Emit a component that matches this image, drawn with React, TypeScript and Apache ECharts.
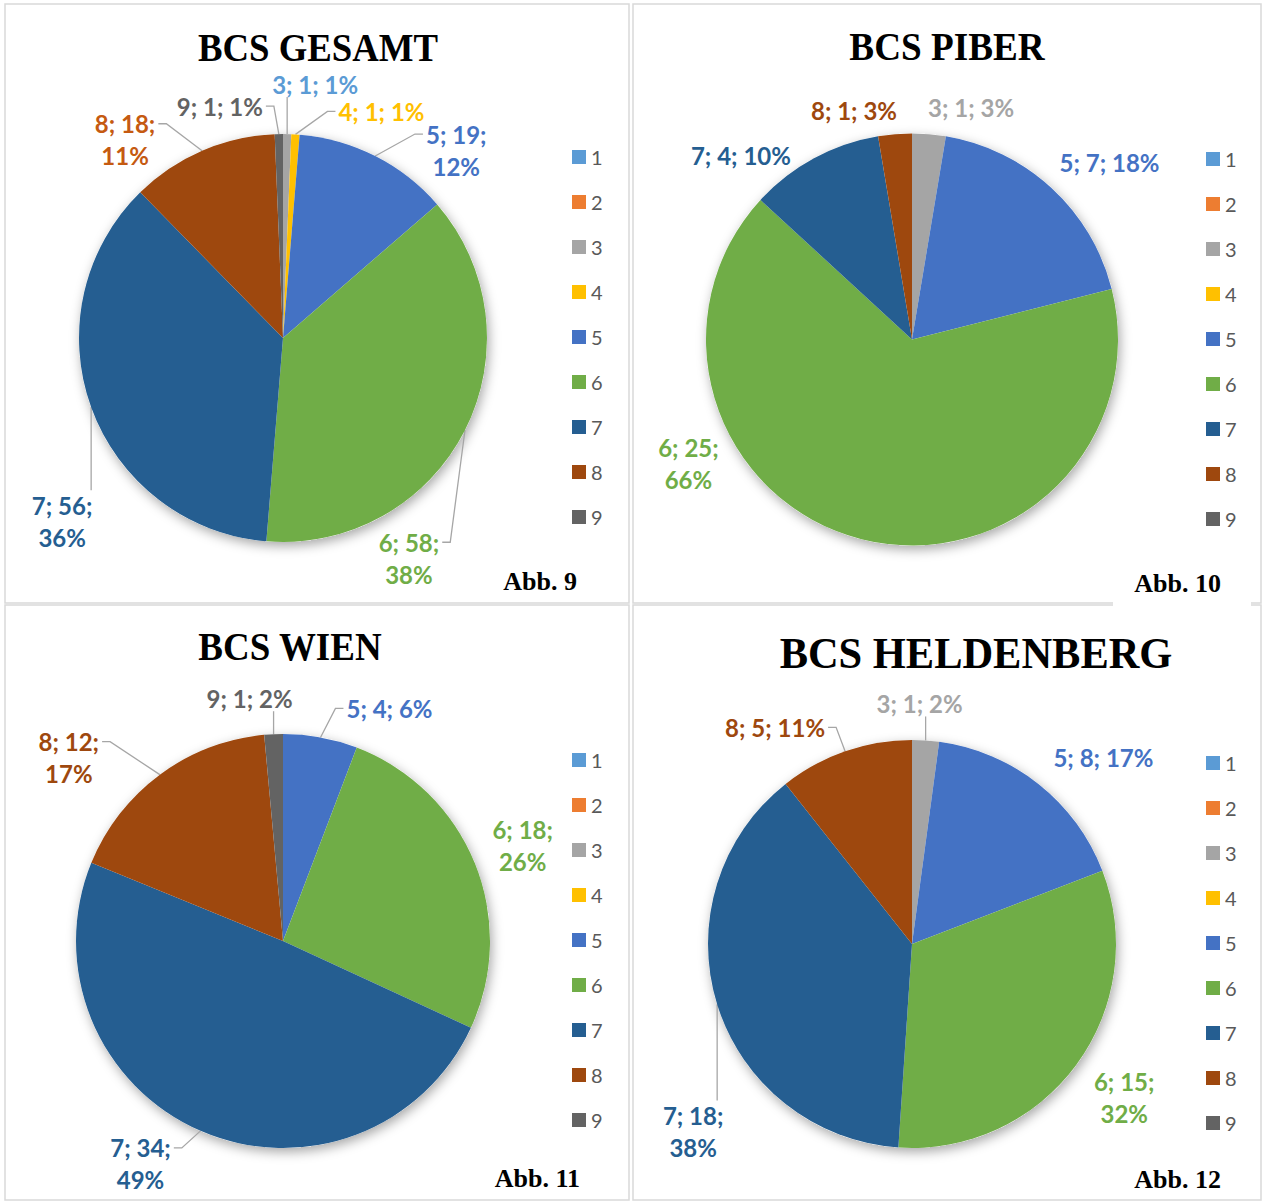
import React, { useEffect, useRef } from 'react';
import * as echarts from 'echarts';

// ---------- DATA ----------
const categories = ['1', '2', '3', '4', '5', '6', '7', '8', '9'];

const gesamtValues = [0, 0, 1, 1, 19, 58, 56, 18, 1];
const gesamtPercents = [0, 0, 1, 1, 12, 38, 36, 11, 1];

const piberValues = [0, 0, 1, 0, 7, 25, 4, 1, 0];
const piberPercents = [0, 0, 3, 0, 18, 66, 10, 3, 0];

const wienValues = [0, 0, 0, 0, 4, 18, 34, 12, 1];
const wienPercents = [0, 0, 0, 0, 6, 26, 49, 17, 2];

const heldenbergValues = [0, 0, 1, 0, 8, 15, 18, 5, 0];
const heldenbergPercents = [0, 0, 2, 0, 17, 32, 38, 11, 0];

const titles = ['BCS GESAMT', 'BCS PIBER', 'BCS WIEN', 'BCS HELDENBERG'];
const figureLabels = ['Abb. 9', 'Abb. 10', 'Abb. 11', 'Abb. 12'];

// ---------- STYLE ----------
const colors = ['#5B9BD5', '#ED7D31', '#A5A5A5', '#FFC000', '#4472C4', '#70AD47', '#255E91', '#9E480E', '#636363'];
const LABEL_LINE_HEIGHT = 32;
const SANS = 'Lato, "Open Sans", "Noto Sans", sans-serif';
const SERIF = '"Liberation Serif", "DejaVu Serif", serif';

type Panel = {
  values: number[];
  percents: number[];
  center: [number, number];
  radius: number;
  legendPos: [number, number];
  titlePos: [number, number];
  titleSize: number;
  titleScaleX: number;
  abbPos: [number, number];
  twoLine: string[];
  noLine: string[];
  labelColor: Record<string, string>;
  labelOffsets: Record<string, [number, number]>;
};

const panels: Panel[] = [
  {
    values: gesamtValues, percents: gesamtPercents,
    center: [283, 338], radius: 204, legendPos: [572, 147],
    titlePos: [318, 47], titleSize: 40, titleScaleX: 0.92, abbPos: [577, 581],
    twoLine: ['5', '6', '7', '8'], noLine: [],
    labelColor: { '3': '#5B9BD5', '8': '#C55A11' },
    labelOffsets: { '3': [28, -50], '4': [86, -23], '5': [81, -6], '6': [-56, 128], '7': [-29, 114], '8': [-77, -11], '9': [-59, -28] },
  },
  {
    values: piberValues, percents: piberPercents,
    center: [912, 339.5], radius: 206, legendPos: [1206, 149],
    titlePos: [947, 47], titleSize: 40, titleScaleX: 0.93, abbPos: [1221, 583],
    twoLine: ['6'], noLine: ['3', '5', '6', '7', '8'],
    labelColor: {},
    labelOffsets: { '3': [42, -27], '5': [58, -25], '6': [-173, -76], '7': [-73, -3], '8': [-41, -24] },
  },
  {
    values: wienValues, percents: wienPercents,
    center: [283, 941], radius: 207, legendPos: [572, 750],
    titlePos: [290, 647], titleSize: 40, titleScaleX: 0.925, abbPos: [580, 1178],
    twoLine: ['6', '7', '8'], noLine: ['6'],
    labelColor: {},
    labelOffsets: { '5': [69, -29], '6': [48, -17], '7': [-60, 33], '8': [-91, -17], '9': [-24, -36] },
  },
  {
    values: heldenbergValues, percents: heldenbergPercents,
    center: [912, 944], radius: 204, legendPos: [1206, 753],
    titlePos: [976, 653], titleSize: 44, titleScaleX: 0.965, abbPos: [1221, 1179],
    twoLine: ['6', '7'], noLine: ['5', '6'],
    labelColor: {},
    labelOffsets: { '3': [-6, -37], '5': [65, -26], '6': [48, 32], '7': [-24, 127], '8': [-70, -24] },
  },
];

function makeLabelLayout(p: Panel) {
  return (params: any) => {
    const cat = categories[params.dataIndex];
    const off = p.labelOffsets[cat];
    const pts = params.labelLinePoints;
    if (!off || !pts || !pts[0]) return {};
    const p0 = pts[0];
    const w = params.labelRect.width;
    const h = params.labelRect.height;
    const x = p0[0] + off[0];
    const y = p0[1] + off[1];
    const left = x - w / 2;
    const right = x + w / 2;
    const top = y - h / 2;
    const bottom = y + h / 2;
    const firstY = top + LABEL_LINE_HEIGHT / 2;
    let line: number[][];
    if (p0[0] >= left && p0[0] <= right) {
      const yEnd = p0[1] > y ? bottom - 3 : top + 1;
      line = [p0, [p0[0], (p0[1] + yEnd) / 2], [p0[0], yEnd]];
    } else if (p0[0] > right) {
      line = [p0, [right + 11, firstY], [right + 3, firstY]];
    } else {
      line = [p0, [left - 11, firstY], [left - 3, firstY]];
    }
    return { x, y, align: 'center', verticalAlign: 'middle', labelLinePoints: line };
  };
}

function buildOption() {
  const series: any[] = [];
  panels.forEach((p) => {
    // soft shadow under each pie
    series.push({
      type: 'pie',
      center: p.center,
      radius: p.radius,
      silent: true,
      z: 1,
      label: { show: false },
      labelLine: { show: false },
      emphasis: { disabled: true },
      itemStyle: { color: '#ffffff', shadowBlur: 12, shadowColor: 'rgba(0,0,0,0.35)', shadowOffsetX: 2, shadowOffsetY: 4 },
      data: [{ value: 1, name: 'shadow' }],
    });
    series.push({
      type: 'pie',
      center: p.center,
      radius: p.radius,
      startAngle: 90,
      clockwise: true,
      avoidLabelOverlap: false,
      z: 2,
      emphasis: { disabled: true },
      itemStyle: { borderWidth: 0 },
      label: {
        position: 'outside',
        fontFamily: SANS,
        fontWeight: 'bold',
        fontSize: 24,
        lineHeight: LABEL_LINE_HEIGHT,
      },
      labelLine: { show: true, length: 10, length2: 8, lineStyle: { color: '#A6A6A6', width: 1.3 } },
      labelLayout: makeLabelLayout(p),
      data: categories.map((c, i) => {
        const v = p.values[i];
        const text = p.twoLine.includes(c)
          ? `${c}; ${v};\n${p.percents[i]}%`
          : `${c}; ${v}; ${p.percents[i]}%`;
        return {
          name: c,
          value: v,
          itemStyle: { color: colors[i] },
          label: { show: v > 0, formatter: text, color: p.labelColor[c] || colors[i] },
          labelLine: p.noLine.includes(c) ? { show: v > 0, lineStyle: { opacity: 0 } } : { show: v > 0 },
        };
      }),
    });
  });

  const legend = panels.map((p) => ({
    orient: 'vertical',
    left: p.legendPos[0],
    top: p.legendPos[1],
    padding: 0,
    data: categories,
    icon: 'rect',
    itemWidth: 14,
    itemHeight: 14,
    itemGap: 25,
    selectedMode: false,
    textStyle: { fontFamily: SANS, fontSize: 20, lineHeight: 20, color: '#595959' },
  }));

  const borderStyle = { fill: 'none', stroke: '#D9D9D9', lineWidth: 1.5 };
  const elements: any[] = [
    { type: 'rect', shape: { x: 5, y: 4, width: 624, height: 599 }, style: borderStyle, silent: true, z: 0 },
    { type: 'rect', shape: { x: 633, y: 4, width: 628, height: 599 }, style: borderStyle, silent: true, z: 0 },
    { type: 'rect', shape: { x: 5, y: 605, width: 624, height: 595 }, style: borderStyle, silent: true, z: 0 },
    { type: 'rect', shape: { x: 633, y: 605, width: 628, height: 595 }, style: borderStyle, silent: true, z: 0 },
    { type: 'rect', shape: { x: 1113, y: 560, width: 138, height: 48 }, style: { fill: '#ffffff' }, silent: true, z: 1 },
  ];
  panels.forEach((p, i) => {
    elements.push({
      type: 'text',
      x: p.titlePos[0],
      y: p.titlePos[1],
      scaleX: p.titleScaleX,
      silent: true,
      z: 5,
      style: {
        text: titles[i],
        fontFamily: SERIF,
        fontWeight: 'bold',
        fontSize: p.titleSize,
        fill: '#000000',
        align: 'center',
        verticalAlign: 'middle',
      },
    });
    elements.push({
      type: 'text',
      x: p.abbPos[0],
      y: p.abbPos[1],
      silent: true,
      z: 5,
      style: {
        text: figureLabels[i],
        fontFamily: SERIF,
        fontWeight: 'bold',
        fontSize: 26,
        fill: '#000000',
        align: 'right',
        verticalAlign: 'middle',
      },
    });
  });

  return {
    animation: false,
    backgroundColor: '#ffffff',
    tooltip: { show: false },
    legend,
    series,
    graphic: { elements },
  };
}

export default function App() {
  const ref = useRef<HTMLDivElement>(null);
  useEffect(() => {
    if (!ref.current) return;
    const chart = echarts.init(ref.current, undefined, { renderer: 'svg' });
    chart.setOption(buildOption() as any);
    return () => chart.dispose();
  }, []);
  return (
    <div
      ref={ref}
      style={{ position: 'absolute', left: 0, top: 0, width: 1265, height: 1202, background: '#ffffff' }}
    />
  );
}
